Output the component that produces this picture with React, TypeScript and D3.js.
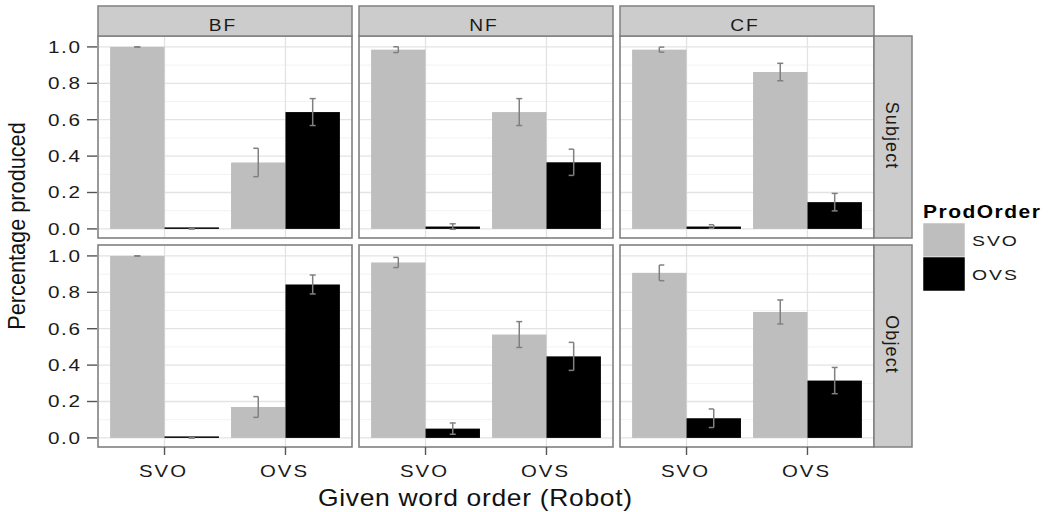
import React from "react";
import * as d3 from "d3";

// ---- data ----
const facetCols = ["BF", "NF", "CF"];
const facetRows = ["Subject", "Object"];
const givenOrders = ["SVO", "OVS"];
const prodOrders = ["SVO", "OVS"];
const yTicks = [0, 0.2, 0.4, 0.6, 0.8, 1.0];
const yMinor = [0.1, 0.3, 0.5, 0.7, 0.9];

// proportion produced, [facet column][given order]
const subjectProdSVO = [[1.0, 0.365], [0.985, 0.642], [0.985, 0.862]];
const subjectProdOVS = [[0.0, 0.642], [0.013, 0.366], [0.013, 0.147]];
const objectProdSVO = [[1.0, 0.17], [0.964, 0.568], [0.907, 0.692]];
const objectProdOVS = [[0.0, 0.843], [0.051, 0.448], [0.108, 0.315]];

// standard errors, [facet column][given order]
const subjectSeSVO = [[0.0, 0.078], [0.016, 0.074], [0.014, 0.048]];
const subjectSeOVS = [[0.0, 0.074], [0.015, 0.072], [0.01, 0.048]];
const objectSeSVO = [[0.0, 0.057], [0.028, 0.071], [0.043, 0.066]];
const objectSeOVS = [[0.0, 0.052], [0.031, 0.077], [0.051, 0.072]];

// which side the error-bar caps are drawn on (-1 left, 0 both, 1 right)
const subjectCapSVO = [[0, -1], [-1, 0], [1, 0]];
const subjectCapOVS = [[0, 0], [0, -1], [-1, 0]];
const objectCapSVO = [[0, -1], [-1, 0], [1, 0]];
const objectCapOVS = [[0, 0], [0, -1], [-1, 0]];

const fillColors = ["#bebebe", "#000000"];

// ---- layout ----
const W = 1048, H = 512;
const PX0 = 98, PW = 254, PGX = 7;
const PY0 = 36, PH = 202, PGY = 7;
const STRIP_H = 30, STRIP_W = 38;
const FONT = "'Liberation Sans', Arial, Helvetica, sans-serif";

const rowValues = [
  [subjectProdSVO, subjectProdOVS],
  [objectProdSVO, objectProdOVS],
];
const rowSe = [
  [subjectSeSVO, subjectSeOVS],
  [objectSeSVO, objectSeOVS],
];
const rowCaps = [
  [subjectCapSVO, subjectCapOVS],
  [objectCapSVO, objectCapOVS],
];

function SText(props: any) {
  const { x, y, rot = 0, sx = 1, sy = 1, ls = 0, size, anchor = "middle", weight = "normal", fill = "#1a1a1a", dy, children } = props;
  // compensate trailing letter spacing so anchoring matches the glyphs
  const shift = anchor === "middle" ? ls / 2 : anchor === "end" ? ls : 0;
  return (
    <text
      transform={`translate(${x},${y}) rotate(${rot}) scale(${sx},${sy})`}
      x={shift}
      textAnchor={anchor}
      fontSize={size}
      fontWeight={weight}
      fontFamily={FONT}
      letterSpacing={ls}
      fill={fill}
      dy={dy}
    >
      {children}
    </text>
  );
}

export default function App() {
  const x = d3.scaleLinear().domain([0.45, 2.55]).range([0, PW]);
  const y = d3.scaleLinear().domain([-0.05, 1.06]).range([PH, 0]);
  const barW = x(1.45) - x(1);

  const panels: any[] = [];
  facetRows.forEach((rowName, r) => {
    facetCols.forEach((colName, c) => {
      const px = PX0 + c * (PW + PGX);
      const py = PY0 + r * (PH + PGY);
      const bars: any[] = [];
      const errs: any[] = [];
      givenOrders.forEach((g, gi) => {
        prodOrders.forEach((p, pi) => {
          const v = rowValues[r][pi][c][gi];
          const se = rowSe[r][pi][c][gi];
          const cap = rowCaps[r][pi][c][gi];
          const cx = x(gi + 1) + (pi === 0 ? -barW / 2 : barW / 2);
          const top = y(v);
          const h = Math.max(y(0) - top, 1.5);
          bars.push(
            <rect key={`b${gi}${pi}`} x={cx - barW / 2} y={y(0) - h} width={barW} height={h} fill={fillColors[pi]} />
          );
          const yHi = y(v + se), yLo = y(v - se);
          const x1 = cap === 1 ? cx : cap === -1 ? cx - 5 : cx - 3;
          const x2 = cap === 1 ? cx + 5 : cap === -1 ? cx : cx + 3;
          errs.push(
            <g key={`e${gi}${pi}`} stroke="#808080" strokeWidth={1.5} fill="none">
              <line x1={cx} x2={cx} y1={yHi} y2={yLo} />
              <line x1={x1} x2={x2} y1={yHi} y2={yHi} />
              <line x1={x1} x2={x2} y1={yLo} y2={yLo} />
            </g>
          );
        });
      });
      panels.push(
        <g key={`${r}-${c}`} transform={`translate(${px},${py})`}>
          <rect x={0} y={0} width={PW} height={PH} fill="#ffffff" />
          {yMinor.map((t) => (
            <line key={`mn${t}`} x1={0} x2={PW} y1={y(t)} y2={y(t)} stroke="#f2f2f2" strokeWidth={1} />
          ))}
          {yTicks.map((t) => (
            <line key={`mj${t}`} x1={0} x2={PW} y1={y(t)} y2={y(t)} stroke="#e3e3e3" strokeWidth={1.3} />
          ))}
          {givenOrders.map((g, gi) => (
            <line key={`vx${g}`} x1={x(gi + 1)} x2={x(gi + 1)} y1={0} y2={PH} stroke="#e3e3e3" strokeWidth={1.3} />
          ))}
          {bars}
          {errs}
          <rect x={0} y={0} width={PW} height={PH} fill="none" stroke="#808080" strokeWidth={1.6} />
          {r === 0 && (
            <g>
              <rect x={0} y={-STRIP_H} width={PW} height={STRIP_H} fill="#cccccc" stroke="#808080" strokeWidth={1.5} />
              <SText x={PW / 2 - 3} y={-5.5} size={16} sx={1.2} ls={1.6}>{colName}</SText>
            </g>
          )}
          {c === facetCols.length - 1 && (
            <g>
              <rect x={PW} y={0} width={STRIP_W} height={PH} fill="#cccccc" stroke="#808080" strokeWidth={1.5} />
              <SText x={PW + STRIP_W / 2 - 1} y={PH / 2 - 2} rot={90} size={16} sx={1.12} sy={1.15} ls={1.0} dy="0.35em">{rowName}</SText>
            </g>
          )}
          {c === 0 &&
            yTicks.map((t) => (
              <g key={`yt${t}`}>
                <line x1={-11} x2={-1} y1={y(t)} y2={y(t)} stroke="#555555" strokeWidth={1.4} />
                <SText x={-18} y={y(t)} size={16.3} sx={1.27} ls={1.3} anchor="end" dy="0.36em">{d3.format(".1f")(t)}</SText>
              </g>
            ))}
          {r === facetRows.length - 1 &&
            givenOrders.map((g, gi) => (
              <g key={`xt${g}`}>
                <line x1={x(gi + 1)} x2={x(gi + 1)} y1={PH} y2={PH + 8} stroke="#555555" strokeWidth={1.4} />
                <SText x={x(gi + 1) - 2} y={PH + 30} size={16.3} sx={1.25} ls={1.6}>{g}</SText>
              </g>
            ))}
        </g>
      );
    });
  });

  return (
    <svg width={W} height={H} style={{ position: "absolute", left: 0, top: 0, background: "#ffffff" }}>
      <rect x={0} y={0} width={W} height={H} fill="#ffffff" />
      {panels}
      <SText x={475} y={506} size={23} sx={1.15} ls={0.6} fill="#111111">Given word order (Robot)</SText>
      <SText x={25} y={226} rot={-90} size={21.5} sx={1.01} sy={1.15} fill="#111111">Percentage produced</SText>
      <g>
        <SText x={923} y={218} size={17.5} sx={1.2} ls={1.25} anchor="start" weight="bold" fill="#000000">ProdOrder</SText>
        {prodOrders.map((p, i) => (
          <g key={`lg${p}`}>
            <rect x={923} y={223 + i * 34} width={42} height={34} fill={fillColors[i]} stroke="#ffffff" strokeWidth={0.5} />
            <SText x={972} y={223 + i * 34 + 17} size={15.5} sx={1.25} ls={1.6} anchor="start" dy="0.36em">{p}</SText>
          </g>
        ))}
      </g>
    </svg>
  );
}
